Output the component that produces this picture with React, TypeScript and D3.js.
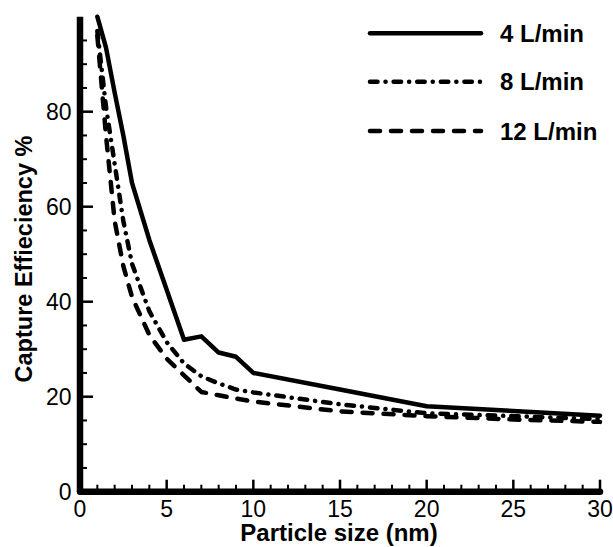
import React from 'react';
import * as d3 from 'd3';

const particleSizes = [1, 1.5, 2, 2.5, 3, 4, 5, 6, 7, 8, 9, 10, 15, 20, 25, 30];
const eff4 = [100, 93.5, 84, 75, 65, 53, 42.5, 32, 32.7, 29.3, 28.4, 25, 21.5, 18, 17, 16];
const eff8 = [97, 81, 69, 57, 48, 38, 31.5, 27, 24.3, 22.8, 21.5, 20.9, 18.4, 16.5, 15.9, 15.3];
const eff12 = [96, 75, 57, 47.5, 41, 33, 28, 24.5, 21, 20.3, 19.6, 19, 16.9, 15.9, 15.2, 14.7];

const seriesNames = ['4 L/min', '8 L/min', '12 L/min'];
const xMajorTicks = [0, 5, 10, 15, 20, 25, 30];
const yMajorTicks = [0, 20, 40, 60, 80];
const xTitle = 'Particle size (nm)';
const yTitle = 'Capture Effieciency %';

const W = 613;
const H = 547;
const FONT = '"Liberation Sans", Arial, Helvetica, sans-serif';

export default function App() {
  const x = d3.scaleLinear().domain([0, 30]).range([80, 600]);
  const y = d3.scaleLinear().domain([0, 100]).range([491.7, 16.7]);

  const dashes = [null, '7.5 8 0.1 8', '10 11'];
  const allSeries = [eff4, eff8, eff12];

  const line = d3
    .line<number>()
    .x((_, i) => x(particleSizes[i]))
    .y((d) => y(d));

  const xMinor = d3.range(0, 31, 1).filter((v) => v % 5 !== 0);
  const yMinor = d3.range(0, 100, 5).filter((v) => v % 20 !== 0);

  const legendY = [33.3, 81.7, 131];

  return (
    <svg
      width={W}
      height={H}
      style={{ position: 'absolute', left: 0, top: 0, background: '#fff' }}
      fontFamily={FONT}
    >
      <rect x={0} y={0} width={W} height={H} fill="#fff" />
      {allSeries.map((vals, k) => (
        <path
          key={k}
          d={line(vals) || ''}
          fill="none"
          stroke="#000"
          strokeWidth={4.5}
          strokeLinejoin="round"
          strokeLinecap="round"
          strokeDasharray={dashes[k] || undefined}
        />
      ))}

      {xMinor.map((v) => (
        <line key={'xm' + v} x1={x(v)} x2={x(v)} y1={y(0)} y2={y(0) - 7} stroke="#000" strokeWidth={2} />
      ))}
      {xMajorTicks.map((v) => (
        <line key={'xM' + v} x1={x(v)} x2={x(v)} y1={y(0)} y2={y(0) - 12} stroke="#000" strokeWidth={2.5} />
      ))}
      {yMinor.map((v) => (
        <line key={'ym' + v} x1={x(0)} x2={x(0) + 7} y1={y(v)} y2={y(v)} stroke="#000" strokeWidth={2} />
      ))}
      {yMajorTicks.map((v) => (
        <line key={'yM' + v} x1={x(0)} x2={x(0) + 13} y1={y(v)} y2={y(v)} stroke="#000" strokeWidth={2.5} />
      ))}

      <line x1={x(0)} x2={x(0)} y1={y(0)} y2={y(100)} stroke="#000" strokeWidth={6.5} />
      <line x1={x(0)} x2={x(30)} y1={y(0)} y2={y(0)} stroke="#000" strokeWidth={6.5} strokeLinecap="round" />

      {xMajorTicks.map((v) => (
        <text key={'xl' + v} x={x(v)} y={516.5} textAnchor="middle" fontSize={23}>
          {v}
        </text>
      ))}
      {yMajorTicks.map((v) => (
        <text key={'yl' + v} x={71.5} y={y(v)} dy="0.36em" textAnchor="end" fontSize={23}>
          {v}
        </text>
      ))}

      <text x={339} y={541} textAnchor="middle" fontSize={24} fontWeight="bold">
        {xTitle}
      </text>
      <text
        transform={`translate(32, 259) rotate(-90)`}
        textAnchor="middle"
        fontSize={23.5}
        fontWeight="bold"
      >
        {yTitle}
      </text>

      {seriesNames.map((name, k) => (
        <g key={'lg' + k}>
          <line
            x1={370}
            x2={481}
            y1={legendY[k]}
            y2={legendY[k]}
            stroke="#000"
            strokeWidth={4.5}
            strokeLinecap="round"
            strokeDasharray={dashes[k] || undefined}
          />
          <text x={500} y={legendY[k]} dy="0.36em" fontSize={24} fontWeight="bold">
            {name}
          </text>
        </g>
      ))}
    </svg>
  );
}
